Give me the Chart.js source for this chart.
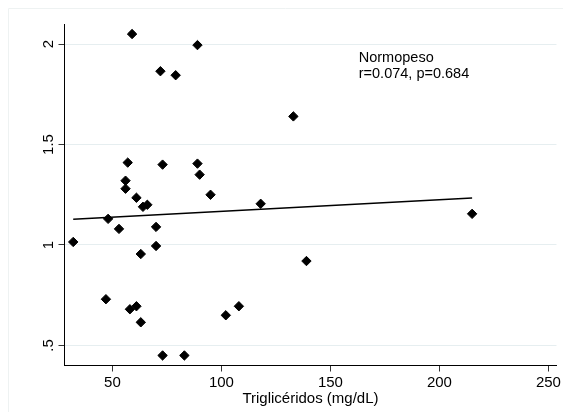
<!DOCTYPE html>
<html>
<head>
<meta charset="utf-8">
<script src="https://cdn.jsdelivr.net/npm/chart.js@4/dist/chart.umd.min.js"></script>
<style>
  html, body { margin: 0; padding: 0; background: #fff; }
  #wrap { width: 563px; height: 412px; }
</style>
</head>
<body>
<div id="wrap"><canvas id="myChart" width="563" height="412"></canvas></div>
<script>
// triglicéridos (mg/dL) vs ratio, grupo normopeso
var trig  = [32, 59, 89, 72, 79, 133, 57, 73, 89, 90, 56, 56, 95, 61, 64, 66, 118, 215, 48, 53, 70, 70, 63, 139, 47, 58, 61, 108, 102, 63, 73, 83];
var ratio = [1.015, 2.05, 1.995, 1.865, 1.845, 1.64, 1.41, 1.40, 1.405, 1.35, 1.32, 1.28, 1.25, 1.235, 1.19, 1.20, 1.205, 1.155, 1.13, 1.08, 1.09, 0.995, 0.955, 0.92, 0.73, 0.68, 0.695, 0.695, 0.65, 0.615, 0.45, 0.45];

// fitted line, read at both ends
var fitX = [32, 215];
var fitY = [1.128, 1.234];

var xTicks = [50, 100, 150, 200, 250];
var xTickLabels = ['50', '100', '150', '200', '250'];
var yTicks = [0.5, 1, 1.5, 2];
var yTickLabels = ['.5', '1', '1.5', '2'];

var xTitle = 'Triglicéridos (mg/dL)';
var note = ['Normopeso', 'r=0.074, p=0.684'];

var font = "'Liberation Sans', Arial, sans-serif";

var pts = [];
for (var i = 0; i < trig.length; i++) {
    pts.push({ x: trig[i], y: ratio[i] });
}
var fit = [];
for (var j = 0; j < fitX.length; j++) {
    fit.push({ x: fitX[j], y: fitY[j] });
}

// faint frame + text note
var extras = {
    id: 'extras',
    beforeDraw: function (chart) {
        var ctx = chart.ctx;
        ctx.save();
        ctx.strokeStyle = '#eef2f2';
        ctx.lineWidth = 1;
        ctx.beginPath();
        ctx.moveTo(8.5, 412);
        ctx.lineTo(8.5, 8.5);
        ctx.lineTo(563, 8.5);
        ctx.stroke();
        ctx.restore();
    },
    afterDraw: function (chart) {
        var ctx = chart.ctx;
        var xs = chart.scales.x;
        ctx.save();
        ctx.fillStyle = '#000';
        ctx.font = '14.5px ' + font;
        ctx.textBaseline = 'alphabetic';
        var x0 = xs.getPixelForValue(163);
        ctx.fillText(note[0], x0, 62);
        ctx.fillText(note[1], x0, 78);
        ctx.restore();
    }
};

var ctx = document.getElementById('myChart').getContext('2d');
var myChart = new Chart(ctx, {
    type: 'scatter',
    data: {
        datasets: [{
            type: 'line',
            data: fit,
            borderColor: '#000',
            borderWidth: 1.5,
            pointRadius: 0,
            fill: false
        }, {
            data: pts,
            pointStyle: 'rectRot',
            pointRadius: 4.7,
            backgroundColor: '#000',
            borderColor: '#000',
            borderWidth: 1
        }]
    },
    options: {
        responsive: false,
        animation: false,
        events: [],
        layout: { padding: { top: 24, right: 5, left: 0, bottom: 0 } },
        plugins: {
            legend: { display: false },
            tooltip: { enabled: false }
        },
        scales: {
            x: {
                type: 'linear',
                min: 28,
                max: 253.7,
                afterBuildTicks: function (scale) {
                    scale.ticks = xTicks.map(function (v) { return { value: v }; });
                },
                afterFit: function (scale) { scale.height = 46.5; },
                ticks: {
                    color: '#000',
                    font: { family: font, size: 15 },
                    padding: 2,
                    maxRotation: 0,
                    callback: function (value) {
                        return xTickLabels[xTicks.indexOf(value)];
                    }
                },
                grid: {
                    drawOnChartArea: false,
                    drawTicks: true,
                    tickLength: 6,
                    tickColor: '#333'
                },
                border: { display: true, color: '#000', width: 1 },
                title: {
                    display: true,
                    text: xTitle,
                    color: '#000',
                    font: { family: font, size: 15 },
                    padding: { top: 0, bottom: 4 }
                }
            },
            y: {
                type: 'linear',
                min: 0.4,
                max: 2.1,
                afterBuildTicks: function (scale) {
                    scale.ticks = yTicks.map(function (v) { return { value: v }; });
                },
                afterFit: function (scale) { scale.width = 64.5; },
                ticks: {
                    color: '#000',
                    font: { family: font, size: 15 },
                    minRotation: 90,
                    maxRotation: 90,
                    crossAlign: 'center',
                    padding: -1,
                    callback: function (value) {
                        return yTickLabels[yTicks.indexOf(value)];
                    }
                },
                grid: {
                    color: '#e6eef0',
                    lineWidth: 1,
                    drawTicks: true,
                    tickLength: 6,
                    tickColor: '#333'
                },
                border: { display: true, color: '#000', width: 1 }
            }
        }
    },
    plugins: [extras]
});
</script>
</body>
</html>
